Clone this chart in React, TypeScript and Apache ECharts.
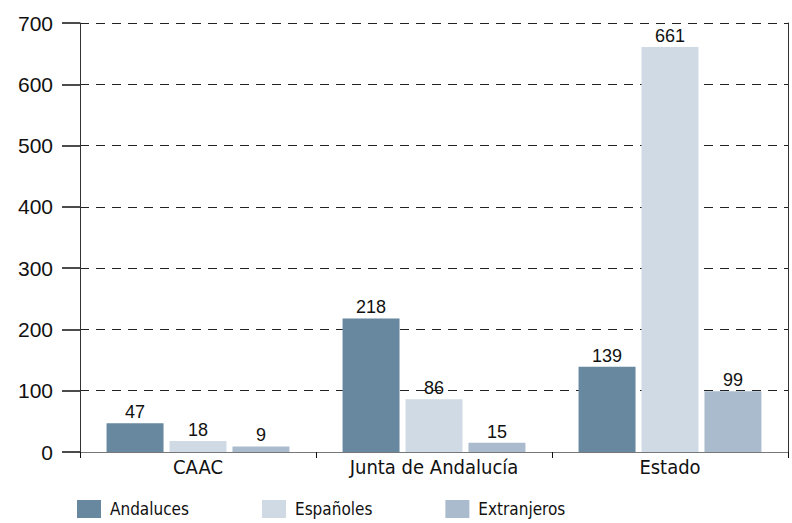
import React, { useEffect, useRef } from "react";
import * as echarts from "echarts";

const categories = ["CAAC", "Junta de Andalucía", "Estado"];
const seriesNames = ["Andaluces", "Españoles", "Extranjeros"];
const andaluces = [47, 218, 139];
const espanoles = [18, 86, 661];
const extranjeros = [9, 15, 99];
const colors = ["#67889f", "#cfdae4", "#aabbcd"];

const NARROW = "'DejaVu Sans Condensed', 'Liberation Sans', sans-serif";
const REG = "'Liberation Sans', Arial, sans-serif";

export default function App() {
  const ref = useRef<HTMLDivElement>(null);
  useEffect(() => {
    document.body.style.margin = "0";
    if (!ref.current) return;
    const chart = echarts.init(ref.current, null, { renderer: "svg" });
    const data = [andaluces, espanoles, extranjeros];
    chart.setOption({
      animation: false,
      backgroundColor: "#ffffff",
      grid: { left: 80, right: 4, top: 23, bottom: 71, containLabel: false },
      legend: {
        left: 77,
        top: 499,
        padding: 0,
        itemWidth: 24,
        itemHeight: 18,
        itemGap: 73,
        icon: "rect",
        data: seriesNames,
        textStyle: {
          fontFamily: NARROW,
          fontSize: 17,
          lineHeight: 20,
          color: "#111",
          padding: [0, 0, 0, 4],
        },
      },
      xAxis: {
        type: "category",
        data: categories,
        axisLine: { show: true, lineStyle: { color: "#777", width: 1 } },
        axisTick: { show: true, length: 6, lineStyle: { color: "#111" } },
        axisLabel: { fontFamily: NARROW, fontSize: 20, color: "#111", margin: 5, interval: 0 },
      },
      yAxis: [
        {
          type: "value",
          min: 0,
          max: 700,
          interval: 100,
          axisLine: { show: true, lineStyle: { color: "#333", width: 1 } },
          axisTick: { show: true, length: 18, lineStyle: { color: "#111", width: 1.5 } },
          axisLabel: { fontFamily: REG, fontSize: 21, color: "#111", margin: 27 },
          splitLine: { show: true, lineStyle: { color: "#222", type: [9, 7], width: 1 } },
        },
        {
          type: "value",
          min: 0,
          max: 700,
          interval: 100,
          position: "right",
          axisLine: { show: true, lineStyle: { color: "#333", width: 1 } },
          axisTick: { show: false },
          axisLabel: { show: false },
          splitLine: { show: false },
        },
      ],
      series: seriesNames.map((name, i) => ({
        name,
        type: "bar",
        data: data[i],
        barCategoryGap: "22.5%",
        barGap: "10.5%",
        itemStyle: { color: colors[i] },
        label: {
          show: true,
          position: "top",
          distance: 2,
          fontFamily: REG,
          fontSize: 18,
          color: "#111",
        },
      })),
    });
    return () => chart.dispose();
  }, []);
  return <div ref={ref} style={{ width: 792, height: 523 }} />;
}
